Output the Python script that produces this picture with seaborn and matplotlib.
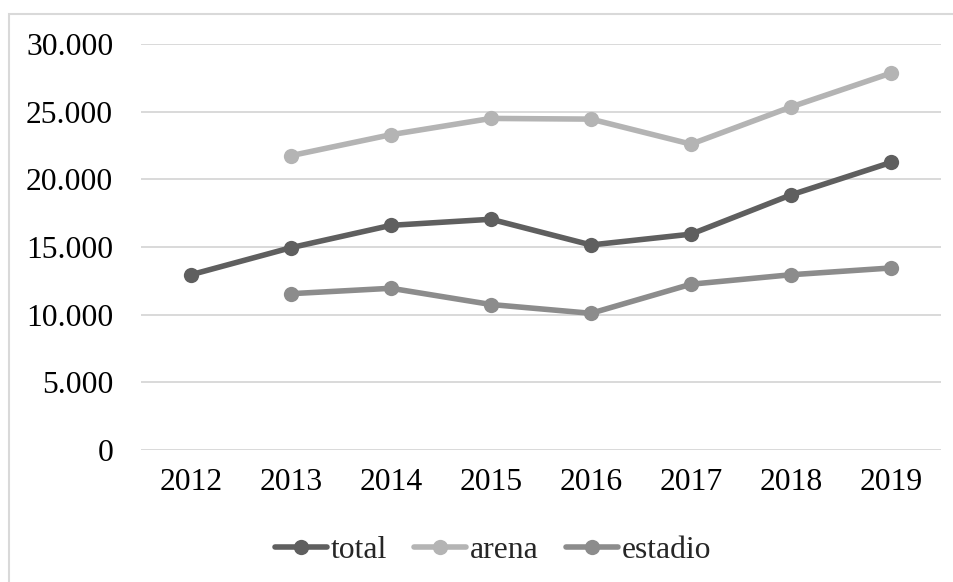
import numpy as np
import pandas as pd
import matplotlib
matplotlib.use("Agg")
import matplotlib.pyplot as plt
import seaborn as sns
from matplotlib.ticker import FuncFormatter, MultipleLocator
from matplotlib.patches import Rectangle
from matplotlib.lines import Line2D

years = ["2012", "2013", "2014", "2015", "2016", "2017", "2018", "2019"]
total = [12950, 14950, 16600, 17050, 15150, 15950, 18850, 21250]
arena = [np.nan, 21750, 23300, 24500, 24450, 22600, 25350, 27850]
estadio = [np.nan, 11550, 11950, 10750, 10100, 12250, 12950, 13450]
series_names = ["total", "arena", "estadio"]
colors = {"total": "#5f5f5f", "arena": "#b4b4b4", "estadio": "#8c8c8c"}

df = pd.DataFrame({"year": years * 3,
                   "x": list(range(len(years))) * 3,
                   "value": total + arena + estadio,
                   "serie": ["total"] * 8 + ["arena"] * 8 + ["estadio"] * 8}).dropna()

sns.set_theme(style="white")
plt.rcParams["font.family"] = ["Liberation Serif", "DejaVu Serif"]

W, H = 954, 582
fig = plt.figure(figsize=(W / 100, H / 100), dpi=100)
ax = fig.add_axes([141 / W, 1 - 450 / H, 800 / W, 406 / H])

LW, MS, FS = 4.0, 11, 22.8
sns.lineplot(data=df, x="x", y="value", hue="serie", hue_order=series_names,
             palette=colors, marker="o", markersize=MS, markeredgewidth=0,
             linewidth=LW, ax=ax, legend=False, zorder=3)

ax.set_xlim(-0.5, 7.5)
ax.set_ylim(0, 30000)
ax.yaxis.set_major_locator(MultipleLocator(5000))
ax.yaxis.set_major_formatter(FuncFormatter(lambda v, p: f"{int(v):,}".replace(",", ".")))
ax.set_xticks(range(len(years)))
ax.set_xticklabels(years)
ax.set_xlabel("")
ax.set_ylabel("")
for s in ax.spines.values():
    s.set_visible(False)
ax.grid(axis="y", color="#d9d9d9", linewidth=1.4, zorder=0)
ax.grid(axis="x", visible=False)
ax.tick_params(axis="y", length=0, pad=20, labelsize=FS, colors="black")
ax.tick_params(axis="x", length=0, pad=13, labelsize=FS, colors="black")

handles = [Line2D([0], [0], color=colors[n], linewidth=LW, marker="o",
                  markersize=MS, markeredgewidth=0) for n in series_names]
fig.legend(handles, series_names, loc="center", bbox_to_anchor=(493 / W, 1 - 550 / H),
           ncol=3, frameon=False, fontsize=FS, handlelength=1.65,
           handletextpad=0.12, columnspacing=0.85, borderpad=0)

fig.patches.append(Rectangle((9 / W, -0.1), 1.2, 1 - 14 / H + 0.1,
                             transform=fig.transFigure, fill=False,
                             edgecolor="#d9d9d9", linewidth=1.5))

fig.savefig("out.png", dpi=100, facecolor="white")
